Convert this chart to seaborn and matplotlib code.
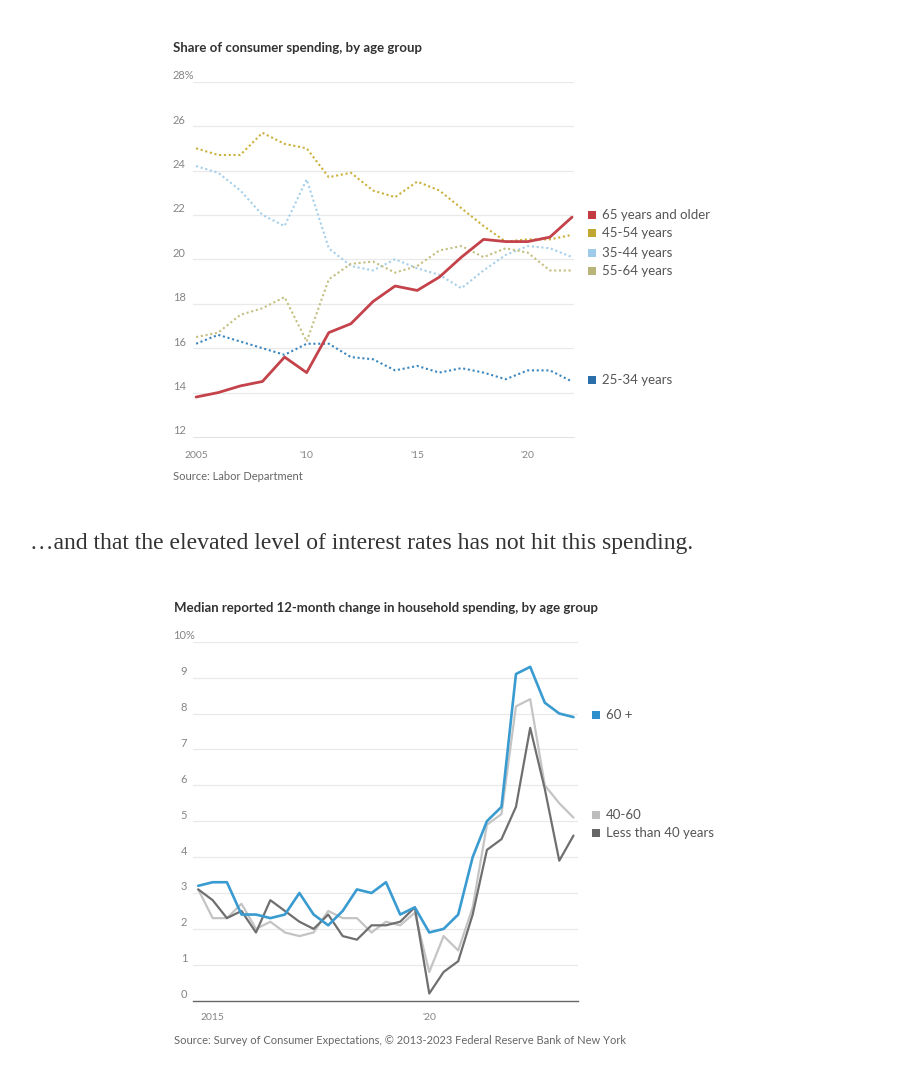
import matplotlib
matplotlib.use("Agg")
import matplotlib.pyplot as plt
from matplotlib.patches import Rectangle
import seaborn as sns
import pandas as pd

sns.set_style("white")
plt.rcParams['font.family'] = ['Lato', 'DejaVu Sans']

# ---- chart 1: share of consumer spending (annual) ----
years1 = list(range(2005, 2023))
age65_plus = [13.8, 14.0, 14.3, 14.5, 15.6, 14.9, 16.7, 17.1, 18.1, 18.8, 18.6, 19.2, 20.1, 20.9, 20.8, 20.8, 21.0, 21.9]
age45_54 = [25.0, 24.7, 24.7, 25.7, 25.2, 25.0, 23.7, 23.9, 23.1, 22.8, 23.5, 23.1, 22.3, 21.5, 20.8, 20.9, 20.9, 21.1]
age35_44 = [24.2, 23.9, 23.1, 22.0, 21.5, 23.6, 20.5, 19.7, 19.5, 20.0, 19.6, 19.3, 18.7, 19.5, 20.2, 20.6, 20.5, 20.1]
age55_64 = [16.5, 16.7, 17.5, 17.8, 18.3, 16.3, 19.1, 19.8, 19.9, 19.4, 19.7, 20.4, 20.6, 20.1, 20.5, 20.3, 19.5, 19.5]
age25_34 = [16.2, 16.6, 16.3, 16.0, 15.7, 16.2, 16.2, 15.6, 15.5, 15.0, 15.2, 14.9, 15.1, 14.9, 14.6, 15.0, 15.0, 14.5]
yticks1 = [12, 14, 16, 18, 20, 22, 24, 26, 28]
ylabels1 = ["12", "14", "16", "18", "20", "22", "24", "26", "28%"]

# ---- chart 2: median 12-month change in household spending (every 4 months) ----
periods2 = ["2014-09", "2015-01", "2015-05", "2015-09", "2016-01", "2016-05", "2016-09",
            "2017-01", "2017-05", "2017-09", "2018-01", "2018-05", "2018-09", "2019-01",
            "2019-05", "2019-09", "2020-01", "2020-05", "2020-09", "2021-01", "2021-05",
            "2021-09", "2022-01", "2022-05", "2022-09", "2023-01", "2023-05"]
over60 = [3.2, 3.3, 3.3, 2.4, 2.4, 2.3, 2.4, 3.0, 2.4, 2.1, 2.5, 3.1, 3.0, 3.3, 2.4, 2.6,
          1.9, 2.0, 2.4, 4.0, 5.0, 5.4, 9.1, 9.3, 8.3, 8.0, 7.9]
age40_60 = [3.1, 2.3, 2.3, 2.7, 2.0, 2.2, 1.9, 1.8, 1.9, 2.5, 2.3, 2.3, 1.9, 2.2, 2.1, 2.45,
            0.8, 1.8, 1.4, 2.6, 4.9, 5.2, 8.2, 8.4, 6.0, 5.5, 5.1]
under40 = [3.1, 2.8, 2.3, 2.5, 1.9, 2.8, 2.5, 2.2, 2.0, 2.4, 1.8, 1.7, 2.1, 2.1, 2.2, 2.6,
           0.2, 0.8, 1.1, 2.4, 4.2, 4.5, 5.4, 7.6, 5.9, 3.9, 4.6]
yticks2 = [0, 1, 2, 3, 4, 5, 6, 7, 8, 9, 10]
ylabels2 = ["0", "1", "2", "3", "4", "5", "6", "7", "8", "9", "10%"]

W, H = 904, 1080
GRID = "#e9e9e9"
TICKC = "#858585"
DOTS = (0, (1, 1.3))


def fx(x):
    return x / W


def fy(y):
    return 1 - y / H


def legend_item(fig, x, y, color, label):
    fig.add_artist(Rectangle((fx(x), fy(y + 4)), 8 / W, 8 / H, transform=fig.transFigure,
                             color=color, lw=0))
    fig.text(fx(x + 14), fy(y), label, fontsize=9.5, color="#555555", va="center")


def left_labels(ax, ticks, labels, dx, ha):
    for v, lab in zip(ticks, labels):
        ax.annotate(lab, xy=(0, v), xycoords=("axes fraction", "data"),
                    xytext=(dx * 0.72, 6 * 0.72), textcoords="offset points",
                    ha=ha, va="center", fontsize=8, color=TICKC)


fig = plt.figure(figsize=(9.04, 10.8), dpi=100)

# ================= chart 1 =================
ax1 = fig.add_axes([fx(193), fy(437), fx(574 - 193), (437 - 81.7) / H])
df1 = pd.DataFrame({"year": years1, "65+": age65_plus, "45-54": age45_54,
                    "35-44": age35_44, "55-64": age55_64, "25-34": age25_34})

dotted = [("35-44", "#a5cfea"), ("25-34", "#3a86bf"), ("55-64", "#c4bf80"), ("45-54", "#cbb03a")]
for col, c in dotted:
    sns.lineplot(data=df1, x="year", y=col, ax=ax1, color=c, lw=1.5,
                 linestyle=DOTS, dash_capstyle="butt")
sns.lineplot(data=df1, x="year", y="65+", ax=ax1, color="#c4424a", lw=2.0)

ax1.set_xlim(2004.86, 2022.09)
ax1.set_ylim(12, 28)
for v in yticks1[1:]:
    ax1.axhline(v, color=GRID, lw=0.9, zorder=0)
ax1.set_yticks([])
ax1.set_xticks(years1)
ax1.set_xticklabels(["2005" if y == 2005 else ("'" + str(y)[2:] if y % 5 == 0 else "") for y in years1])
ax1.tick_params(axis="x", length=3, width=0.9, color="#555555", pad=7, labelsize=7.5, labelcolor=TICKC)
ax1.set_xlabel("")
ax1.set_ylabel("")
for s in ["top", "right", "left"]:
    ax1.spines[s].set_visible(False)
ax1.spines["bottom"].set_color("#e3e3e3")
left_labels(ax1, yticks1, ylabels1, -20, "left")

fig.text(fx(173), fy(48), "Share of consumer spending, by age group", fontsize=9.5,
         fontweight="bold", color="#333333", va="center")
fig.text(fx(173), fy(477), "Source: Labor Department", fontsize=8, color="#666666", va="center")

legend_item(fig, 588, 215, "#c23b40", "65 years and older")
legend_item(fig, 588, 233, "#c2a632", "45-54 years")
legend_item(fig, 588, 253, "#9ecbea", "35-44 years")
legend_item(fig, 588, 271, "#b9b57a", "55-64 years")
legend_item(fig, 588, 380, "#2a6fa8", "25-34 years")

# ================= middle text =================
fig.text(fx(30), fy(543), "\u2026and that the elevated level of interest rates has not hit this spending.",
         fontsize=17, color="#333333", va="center", family=["Liberation Serif", "DejaVu Serif"])

# ================= chart 2 =================
ax2 = fig.add_axes([fx(193), fy(1000.7), fx(578 - 193), (1000.7 - 641.7) / H])
df2 = pd.DataFrame({"date": pd.to_datetime(periods2), "60+": over60,
                    "40-60": age40_60, "<40": under40})
sns.lineplot(data=df2, x="date", y="40-60", ax=ax2, color="#c4c4c4", lw=1.6)
sns.lineplot(data=df2, x="date", y="<40", ax=ax2, color="#6f6f6f", lw=1.6)
sns.lineplot(data=df2, x="date", y="60+", ax=ax2, color="#3a9bd1", lw=1.9)

ax2.set_xlim(pd.Timestamp("2014-07-19"), pd.Timestamp("2023-06-08"))
ax2.set_ylim(0, 10)
for v in yticks2[1:]:
    ax2.axhline(v, color=GRID, lw=0.9, zorder=0)
ax2.set_yticks([])
xt2 = [pd.Timestamp(f"{y}-01-01") for y in range(2015, 2024)]
ax2.set_xticks(xt2)
ax2.set_xticklabels(["2015" if t.year == 2015 else ("'20" if t.year == 2020 else "") for t in xt2])
ax2.tick_params(axis="x", length=4, width=0.9, color="#666666", pad=5, labelsize=7.5, labelcolor=TICKC)
ax2.set_xlabel("")
ax2.set_ylabel("")
for s in ["top", "right", "left"]:
    ax2.spines[s].set_visible(False)
ax2.spines["bottom"].set_color("#666666")
ax2.spines["bottom"].set_linewidth(1.0)
left_labels(ax2, yticks2, ylabels2, -9, "center")

fig.text(fx(174), fy(608), "Median reported 12-month change in household spending, by age group",
         fontsize=9.5, fontweight="bold", color="#333333", va="center")
fig.text(fx(174), fy(1040), "Source: Survey of Consumer Expectations, \u00a9 2013-2023 Federal Reserve Bank of New York",
         fontsize=8, color="#666666", va="center")

legend_item(fig, 592, 715, "#2f8fcd", "60 +")
legend_item(fig, 592, 815, "#bdbdbd", "40-60")
legend_item(fig, 592, 833, "#666666", "Less than 40 years")

fig.savefig("out.png", dpi=100)
